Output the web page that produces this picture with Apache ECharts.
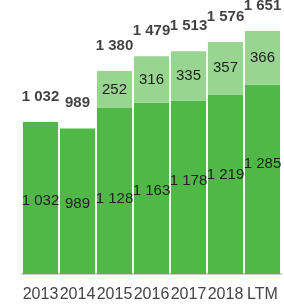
<!DOCTYPE html>
<html>
<head>
<meta charset="utf-8">
<script src="https://cdn.jsdelivr.net/npm/echarts@6/dist/echarts.min.js"></script>
<style>
  html, body { margin: 0; padding: 0; background: #fff; }
  #chart { width: 284px; height: 304px; }
</style>
</head>
<body>
<div id="chart"></div>
<script>
const categories = ['2013', '2014', '2015', '2016', '2017', '2018', 'LTM']
const baseValues = [1032, 989, 1128, 1163, 1178, 1219, 1285]
const topValues = [0, 0, 252, 316, 335, 357, 366]
const totals = [1032, 989, 1380, 1479, 1513, 1576, 1651]
// vertical nudge of the lower labels (px), as in the original
const baseLabelNudge = [3, 3, 8, 2, -6, -9, -16]

const fmt = v => String(v).replace(/\B(?=(\d{3})+(?!\d))/g, ' ')

const chart = echarts.init(document.getElementById('chart'))
chart.setOption({
  animation: false,
  grid: { left: 22, right: 3, top: 31, bottom: 30 },
  xAxis: {
    type: 'category',
    data: categories,
    axisTick: { show: false },
    axisLine: { lineStyle: { color: '#cccccc', width: 2 } },
    axisLabel: { color: '#444', fontSize: 16, fontFamily: 'Liberation Sans', margin: 13, interval: 0 },
  },
  yAxis: {
    type: 'value',
    min: 0,
    max: Math.max(...totals),
    show: false,
    splitLine: { show: false },
  },
  series: [
    {
      type: 'bar',
      stack: 'a',
      data: baseValues.map((v, i) => ({
        value: v,
        label: { offset: [0, baseLabelNudge[i]] },
      })),
      barCategoryGap: '5%',
      itemStyle: { color: '#4fb847' },
      label: {
        show: true,
        position: 'inside',
        color: '#222',
        fontSize: 15,
        fontFamily: 'Liberation Sans',
        formatter: p => fmt(p.value),
      },
    },
    {
      type: 'bar',
      stack: 'a',
      data: topValues,
      itemStyle: { color: '#98d590' },
      label: {
        show: true,
        position: 'inside',
        color: '#222',
        fontSize: 15,
        fontFamily: 'Liberation Sans',
        formatter: p => (p.value ? fmt(p.value) : ''),
      },
    },
    {
      type: 'scatter',
      data: totals,
      symbolSize: 0,
      label: {
        show: true,
        position: 'top',
        distance: 18,
        color: '#111',
        fontSize: 15,
        fontWeight: 'bold',
        fontFamily: 'Liberation Sans',
        formatter: p => fmt(p.value),
      },
    },
  ],
})
</script>
</body>
</html>
